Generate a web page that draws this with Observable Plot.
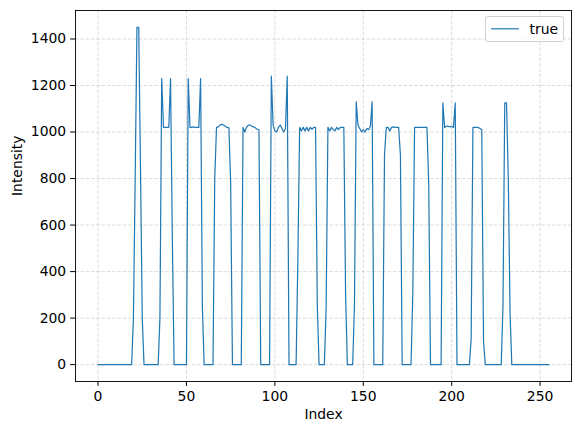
<!DOCTYPE html>
<html><head><meta charset="utf-8">
<script src="https://cdn.jsdelivr.net/npm/d3@7"></script>
<script src="https://cdn.jsdelivr.net/npm/@observablehq/plot@0.6"></script>
<style>body{margin:0;background:#fff}#chart{position:relative;width:580px;height:432px}</style>
</head><body><div id="chart"></div>
<script>
const intensity = [
  0,0,0,0,0,0,0,0,0,0,
  0,0,0,0,0,0,0,0,0,0,
  200,800,1450,1450,850,200,0,0,0,0,
  0,0,0,0,0,200,1230,1020,1020,1020,
  1020,1230,550,0,0,0,0,0,0,0,
  0,1230,1020,1020,1022,1020,1020,1020,1230,250,
  0,0,0,0,0,0,800,1020,1022,1030,
  1033,1030,1025,1020,1018,780,0,0,0,0,
  0,0,1020,1000,1020,1030,1030,1025,1022,1018,
  1012,1010,0,0,0,0,0,0,1240,1030,
  1005,1000,1020,1030,1015,1000,1015,1240,0,0,
  0,0,0,450,1020,1005,1020,1005,1020,1005,
  1020,1012,1020,1020,250,0,0,0,0,250,
  1020,1005,1020,1010,1005,1020,1010,1020,1020,1020,
  300,0,0,0,0,250,1130,1030,1015,1000,
  1010,1000,1015,1010,1025,1130,0,0,0,0,
  0,0,900,1020,1020,1005,1020,1022,1020,1020,
  1020,900,0,0,0,0,0,0,300,1020,
  1020,1020,1020,1020,1020,1020,1020,780,0,0,
  0,0,0,0,0,1125,1020,1025,1025,1022,
  1025,1020,1125,0,0,0,0,0,0,0,
  0,110,1020,1020,1020,1020,1015,1010,100,0,
  0,0,0,0,0,0,0,0,0,250,
  1125,1125,800,220,0,0,0,0,0,0,
  0,0,0,0,0,0,0,0,0,0,
  0,0,0,0,0,0
];
const xTicks = [0, 50, 100, 150, 200, 250];
const yTicks = [0, 200, 400, 600, 800, 1000, 1200, 1400];
const seriesName = "true";
const xLabel = "Index";
const yLabel = "Intensity";

const data = intensity.map((v, i) => ({index: i, value: v}));
const font = "'DejaVu Sans', sans-serif";
const fs = 13.9;
const lineColor = "#1f77b4";

const plot = Plot.plot({
  width: 580, height: 432,
  marginLeft: 75, marginRight: 9, marginTop: 10, marginBottom: 51,
  style: {fontFamily: font, fontSize: fs + "px", background: "#fff", color: "#000", overflow: "visible"},
  x: {domain: [-12.75, 267.75]},
  y: {domain: [-72.5, 1522.5]},
  marks: [
    Plot.gridX(xTicks, {stroke: "#b0b0b0", strokeOpacity: 0.55, strokeWidth: 0.8, strokeDasharray: "3.7,1.6"}),
    Plot.gridY(yTicks, {stroke: "#b0b0b0", strokeOpacity: 0.55, strokeWidth: 0.8, strokeDasharray: "3.7,1.6"}),
    Plot.line(data, {x: "index", y: "value", stroke: lineColor, strokeWidth: 1.2}),
    Plot.frame({stroke: "#000", strokeWidth: 0.9}),
    Plot.axisX(xTicks, {tickSize: 4.9, tickPadding: 4.6, fontSize: fs, label: null, stroke: "#000", tickFormat: d3.format("d")}),
    Plot.axisY(yTicks, {tickSize: 4.9, tickPadding: 4.4, fontSize: fs, label: null, stroke: "#000", tickFormat: d3.format("d")}),
    Plot.text([xLabel], {frameAnchor: "bottom", dy: 37, fontSize: fs, text: d => d}),
    Plot.text([yLabel], {frameAnchor: "left", dx: -58, rotate: -90, fontSize: fs, text: d => d})
  ]
});
document.getElementById("chart").appendChild(plot);

// legend (inside axes, upper right)
const svg = d3.select(plot);
const lg = svg.append("g").attr("font-family", font).attr("font-size", fs).attr("text-anchor", "start");
lg.append("rect").attr("x", 485.5).attr("y", 16.5).attr("width", 78).attr("height", 25)
  .attr("rx", 2.5).attr("fill", "#fff").attr("fill-opacity", 0.8).attr("stroke", "#cccccc").attr("stroke-width", 0.9);
lg.append("line").attr("x1", 491).attr("x2", 519).attr("y1", 28.8).attr("y2", 28.8)
  .attr("stroke", lineColor).attr("stroke-width", 1.2);
lg.append("text").attr("x", 529.5).attr("y", 33.6).attr("fill", "#000").attr("text-anchor", "start").text(seriesName);
</script>
</body></html>
